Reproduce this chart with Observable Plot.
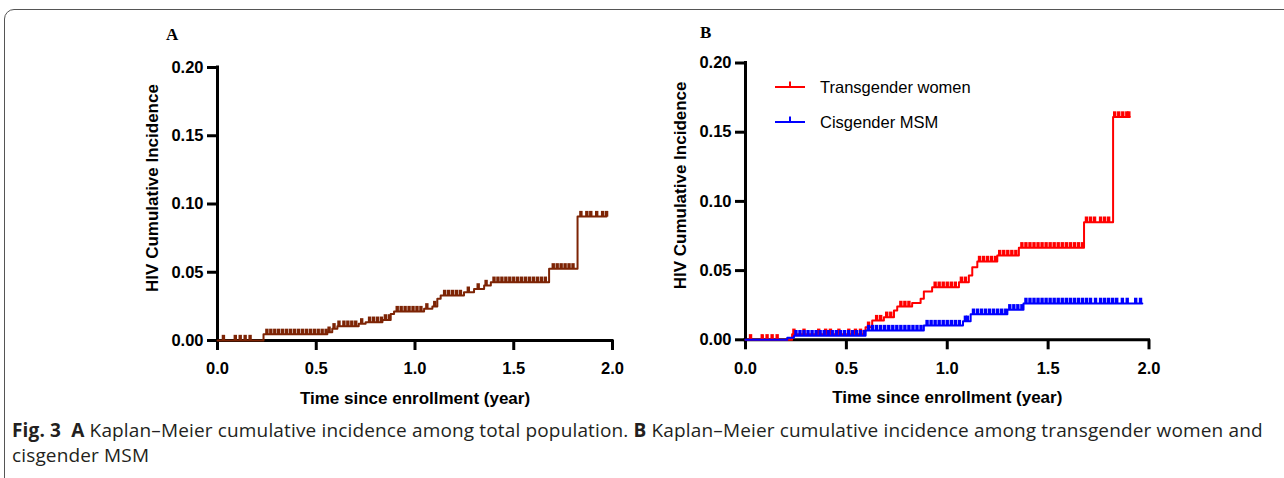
<!DOCTYPE html>
<html><head><meta charset="utf-8">
<script src="https://cdn.jsdelivr.net/npm/d3@7"></script>
<script src="https://cdn.jsdelivr.net/npm/@observablehq/plot@0.6"></script>
<style>
body{margin:0;background:#fff;}
#root{position:relative;width:1284px;height:478px;overflow:hidden;background:#fff;}
#frame{position:absolute;left:4px;top:9px;width:1320px;height:490px;border:1.5px solid #555;border-radius:10px;box-sizing:border-box;}
.panel{position:absolute;top:0;}
.letter{position:absolute;font-family:"Liberation Serif","Times New Roman",serif;font-weight:bold;font-size:17px;line-height:17px;color:#000;}
#caption{position:absolute;left:12px;top:418px;font-family:"Open Sans",sans-serif;font-size:19px;line-height:25px;color:#231f20;white-space:nowrap;letter-spacing:0.15px;}
#legend{position:absolute;left:760px;top:70px;}
</style></head>
<body><div id="root">
<div id="frame"></div>
<div id="panelA" class="panel" style="left:0px"></div>
<div id="panelB" class="panel" style="left:650px"></div>
<div class="letter" style="left:166px;top:26px">A</div>
<div class="letter" style="left:700px;top:24px">B</div>
<div id="legend"></div>
<div id="caption"><div><b>Fig. 3</b>&nbsp; <b>A</b> Kaplan–Meier cumulative incidence among total population. <b>B</b> Kaplan–Meier cumulative incidence among transgender women and</div><div>cisgender MSM</div></div>
</div>
<script>
// ---- data ----
const xTicks = [0, 0.5, 1.0, 1.5, 2.0];
const yTicks = [0, 0.05, 0.10, 0.15, 0.20];
const xTitle = "Time since enrollment (year)";
const yTitle = "HIV Cumulative Incidence";
const seriesNames = ["Transgender women", "Cisgender MSM"];
const seriesColors = ["#ff0000", "#0000ff"];
const totalColor = "#7d2405";

// Panel A: total population (step times and cumulative incidence)
const totalTimes  = [0, 0.233, 0.556, 0.581, 0.607, 0.623, 0.715, 0.750, 0.835, 0.877, 0.894, 1.046, 1.088, 1.113, 1.130, 1.248, 1.299, 1.350, 1.384, 1.679, 1.823, 1.97];
const totalValues = [0, 0.0045, 0.0061, 0.0086, 0.0105, 0.0105, 0.0122, 0.0134, 0.0151, 0.0195, 0.0212, 0.0232, 0.0249, 0.0305, 0.0330, 0.0354, 0.0378, 0.0403, 0.0427, 0.0525, 0.0908, 0.0908];
const totalCensor = [0.03, 0.09, 0.115, 0.14, 0.165,
  0.25, 0.27, 0.29, 0.31, 0.33, 0.35, 0.37, 0.39, 0.41, 0.43, 0.45, 0.47, 0.49, 0.51, 0.53, 0.55,
  0.565, 0.59, 0.615, 0.64, 0.66, 0.68, 0.70, 0.73, 0.77, 0.79, 0.81, 0.83, 0.85, 0.87,
  0.91, 0.93, 0.95, 0.97, 0.99, 1.01, 1.03, 1.06, 1.10, 1.15, 1.17, 1.19, 1.21, 1.23, 1.27, 1.32, 1.36,
  1.40, 1.42, 1.44, 1.46, 1.48, 1.50, 1.52, 1.54, 1.56, 1.58, 1.60, 1.62, 1.64, 1.66,
  1.70, 1.72, 1.74, 1.76, 1.78, 1.80, 1.84, 1.87, 1.89, 1.92, 1.95, 1.97];

// Panel B: transgender women
const twTimes  = [0, 0.231, 0.585, 0.595, 0.628, 0.686, 0.736, 0.752, 0.826, 0.868, 0.884, 0.925, 1.058, 1.107, 1.124, 1.149, 1.248, 1.355, 1.678, 1.822, 1.905];
const twValues = [0, 0.0040, 0.0065, 0.0091, 0.0139, 0.0163, 0.0212, 0.0241, 0.0265, 0.0296, 0.0349, 0.0380, 0.0416, 0.0465, 0.0525, 0.0566, 0.0609, 0.0665, 0.0850, 0.1610, 0.1610];
const twCensor = [0.025, 0.083, 0.107, 0.132, 0.157,
  0.24, 0.29, 0.363, 0.397, 0.421, 0.463, 0.512, 0.545, 0.570,
  0.61, 0.65, 0.67, 0.70, 0.72, 0.77, 0.79, 0.81,
  0.94, 0.96, 0.98, 1.00, 1.02, 1.04, 1.07, 1.09,
  1.16, 1.18, 1.20, 1.22, 1.24, 1.26, 1.28, 1.30, 1.32, 1.34,
  1.37, 1.39, 1.41, 1.43, 1.45, 1.47, 1.49, 1.51, 1.53, 1.55, 1.57, 1.59, 1.61, 1.63, 1.65, 1.67,
  1.69, 1.71, 1.73, 1.76, 1.78, 1.80, 1.83, 1.85, 1.87, 1.89, 1.90];

// Panel B: cisgender MSM
const msmTimes  = [0, 0.207, 0.24, 0.595, 0.884, 1.078, 1.116, 1.298, 1.378, 1.967];
const msmValues = [0, 0.0015, 0.0030, 0.0067, 0.0103, 0.0134, 0.0185, 0.0217, 0.0263, 0.0263];
const msmCensor = [0.25, 0.27, 0.29, 0.31, 0.33, 0.35, 0.37, 0.39, 0.41, 0.43, 0.45, 0.47, 0.49, 0.51, 0.53, 0.55, 0.57, 0.59,
  0.61, 0.63, 0.65, 0.67, 0.69, 0.71, 0.73, 0.75, 0.77, 0.79, 0.81, 0.83, 0.85, 0.87,
  0.90, 0.92, 0.94, 0.96, 0.98, 1.00, 1.02, 1.04, 1.06, 1.09, 1.10,
  1.13, 1.15, 1.17, 1.19, 1.21, 1.23, 1.25, 1.27, 1.29, 1.31, 1.33, 1.35, 1.37,
  1.39, 1.41, 1.43, 1.45, 1.47, 1.49, 1.51, 1.53, 1.55, 1.57, 1.59, 1.61, 1.63, 1.65, 1.67, 1.69, 1.71,
  1.735, 1.76, 1.78, 1.80, 1.82, 1.84, 1.868, 1.892, 1.934, 1.958];

// ---- helpers ----
const steps = (times, values) => times.map((t, i) => ({t, v: values[i]}));
const censorPts = (censor, times, values) => censor.map(t => {
  let i = d3.bisectRight(times, t) - 1; if (i < 0) i = 0;
  return {t, v: values[i]};
});
const tickUp = {draw(ctx, size) { const h = Math.sqrt(size); ctx.moveTo(0, 0); ctx.lineTo(0, -h); }};

function km(times, values, censor, color) {
  return [
    Plot.line(steps(times, values), {x: "t", y: "v", curve: "step-after", stroke: color, strokeWidth: 2}),
    Plot.dot(censorPts(censor, times, values), {x: "t", y: "v", symbol: tickUp, r: 3.2, stroke: color, fill: "none", strokeWidth: 3.4})
  ];
}

function frameMarks() {
  return [
    Plot.axisX(xTicks, {tickSize: 10, tickPadding: 12, strokeWidth: 3, tickFormat: d3.format(".1f"), label: null, fontSize: 16.5, fontWeight: "bold"}),
    Plot.axisY(yTicks, {tickSize: 10, tickPadding: 4, strokeWidth: 3, tickFormat: d3.format(".2f"), label: null, fontSize: 16.5, fontWeight: "bold"}),
    Plot.ruleX([0], {y1: 0, y2: 0.2, strokeWidth: 3, strokeLinecap: "square"}),
    Plot.ruleY([0], {x1: 0, x2: 2, strokeWidth: 3, strokeLinecap: "square"}),
    Plot.text([yTitle], {text: d => d, frameAnchor: "left", textAnchor: "middle", lineAnchor: "middle", dx: -65, dy: -16, rotate: -90, fontSize: 17, fontWeight: "bold"}),
    Plot.text([xTitle], {text: d => d, frameAnchor: "bottom", textAnchor: "middle", lineAnchor: "middle", dy: 58, fontSize: 17, fontWeight: "bold"})
  ];
}

const style = {fontFamily: "'Liberation Sans', Arial, sans-serif", fontSize: "16.5px", fontWeight: "bold", color: "#000", background: "transparent", overflow: "visible"};

const plotA = Plot.plot({
  width: 650, height: 420,
  marginLeft: 217, marginRight: 38, marginTop: 67, marginBottom: 80,
  x: {domain: [0, 2]}, y: {domain: [0, 0.2]},
  style,
  marks: [...frameMarks(), ...km(totalTimes, totalValues, totalCensor, totalColor)]
});
document.getElementById("panelA").appendChild(plotA);

const plotB = Plot.plot({
  width: 634, height: 420,
  marginLeft: 95, marginRight: 135.5, marginTop: 62.5, marginBottom: 80.7,
  x: {domain: [0, 2]}, y: {domain: [0, 0.2]},
  style,
  marks: [...frameMarks(),
    ...km(twTimes, twValues, twCensor, seriesColors[0]),
    ...km(msmTimes, msmValues, msmCensor, seriesColors[1])]
});
document.getElementById("panelB").appendChild(plotB);

// legend
const lg = d3.select("#legend").append("svg").attr("width", 240).attr("height", 70);
seriesNames.forEach((name, i) => {
  const y = 17 + i * 35;
  const g = lg.append("g").attr("transform", `translate(0,${y})`);
  g.append("line").attr("x1", 15).attr("x2", 45).attr("y1", 0).attr("y2", 0).attr("stroke", seriesColors[i]).attr("stroke-width", 2);
  g.append("line").attr("x1", 30).attr("x2", 30).attr("y1", 0).attr("y2", -5.5).attr("stroke", seriesColors[i]).attr("stroke-width", 2);
  g.append("text").attr("x", 60).attr("y", 0).attr("dy", "0.35em").attr("font-family", "'Liberation Sans', Arial, sans-serif").attr("font-size", 16.5).attr("fill", "#000").text(name);
});
</script>
</body></html>
